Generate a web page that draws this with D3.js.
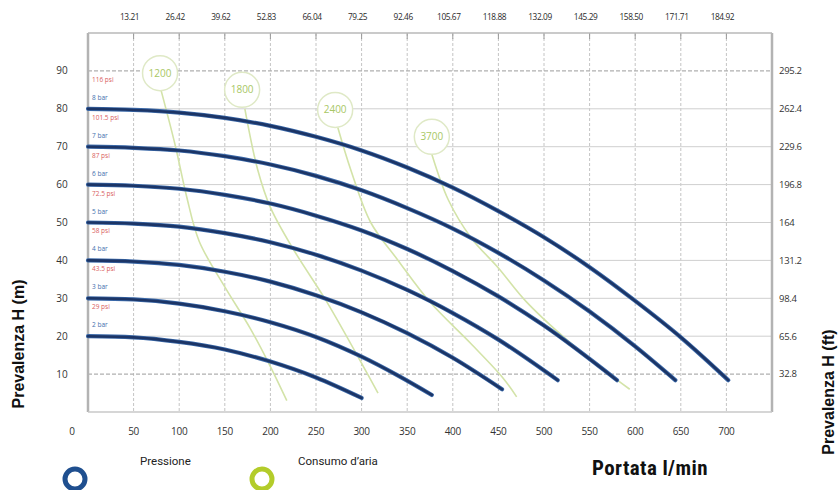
<!DOCTYPE html>
<html><head><meta charset="utf-8">
<script src="https://cdn.jsdelivr.net/npm/d3@7"></script>
<style>body{margin:0;background:#fff}svg{display:block}</style>
</head><body>
<svg id="c" width="840" height="490"></svg>
<script>
// ---- data ----
const flowTicks = [0,50,100,150,200,250,300,350,400,450,500,550,600,650,700];
const galTicks = ["13.21","26.42","39.62","52.83","66.04","79.25","92.46","105.67","118.88","132.09","145.29","158.50","171.71","184.92"];
const headTicks = [10,20,30,40,50,60,70,80,90];
const ftTicks = ["32.8","65.6","98.4","131.2","164","196.8","229.6","262.4","295.2"];
const barLabels = ["2 bar","3 bar","4 bar","5 bar","6 bar","7 bar","8 bar"];
const psiLabels = ["29 psi","43.5 psi","58 psi","72.5 psi","87 psi","101.5 psi","116 psi"];
const barHead = [20,30,40,50,60,70,80];
// pressure curves: [flow l/min, head m]
const p2 = [[0,20],[50,19.7],[100,18.5],[150,16.5],[200,13.3],[250,9.1],[300,3.7]];
const p3 = [[0,30],[50,29.7],[100,28.6],[150,26.6],[200,23.7],[250,19.8],[300,14.6],[340,9.6],[377,4.5]];
const p4 = [[0,40],[50,39.7],[100,38.8],[150,37.0],[200,34.4],[250,30.8],[300,26.3],[350,20.8],[400,14.3],[454,6]];
const p5 = [[0,50],[50,49.7],[100,48.9],[150,47.2],[200,44.8],[250,41.5],[300,37.3],[350,32.2],[400,26.1],[450,19.1],[515,8.4]];
const p6 = [[0,60],[50,59.7],[100,58.9],[150,57.3],[200,55.0],[250,51.8],[300,47.9],[350,43.0],[400,37.2],[450,30.5],[500,22.8],[580,8.4]];
const p7 = [[0,70],[50,69.7],[100,69.0],[150,67.5],[200,65.3],[250,62.3],[300,58.5],[350,53.8],[400,48.4],[450,42.0],[500,34.7],[550,26.5],[600,17.3],[644,8.4]];
const p8 = [[0,80],[50,79.7],[100,79.0],[150,77.6],[200,75.5],[250,72.6],[300,69.0],[350,64.5],[400,59.2],[450,53.0],[500,46.1],[550,38.2],[600,29.3],[650,19.7],[702,8.4]];
const pressureSeries = [p2,p3,p4,p5,p6,p7,p8];
// air consumption lines (Nl/min)
const airLabels = ["1200","1800","2400","3700"];
const airCircle = [[79,89.4],[169,85],[271,79.7],[377,72.6]];
const a1200 = [[80,85],[96,70],[108,57],[122,45],[150,33],[178,22],[200,12],[218,3]];
const a1800 = [[172,80],[186,64],[200,54],[225,43],[262,29],[302,12],[318,5]];
const a2400 = [[274,75],[288,64],[310,50],[340,40],[375,29],[420,18],[455,9],[470,4]];
const a3700 = [[377,68],[395,56],[420,46],[450,38],[481,29],[540,16],[594,6]];
const airSeries = [a1200,a1800,a2400,a3700];

// ---- chart ----
const svg = d3.select("#c");
const x = d3.scaleLinear().domain([0,750]).range([88,772]);
const y = d3.scaleLinear().domain([0,100]).range([412,33]);
const tickFont = "'Open Sans', 'DejaVu Sans', sans-serif";

// grid
const g = svg.append("g");
g.selectAll(".vg").data(flowTicks.slice(1)).join("line")
  .attr("x1",d=>x(d)).attr("x2",d=>x(d)).attr("y1",y(100)).attr("y2",y(0))
  .attr("stroke","#c4c4c4").attr("stroke-width",1).attr("stroke-dasharray","3,2");
g.selectAll(".hg").data(headTicks).join("line")
  .attr("x1",x(0)).attr("x2",x(750)).attr("y1",d=>y(d)).attr("y2",d=>y(d))
  .attr("stroke",d=>(d===10||d===90)?"#b0b0b0":"#cfcfcf")
  .attr("stroke-width",d=>(d===10||d===90)?1.4:1)
  .attr("stroke-dasharray",d=>(d===10||d===90)?"4,2":null);
// top short ticks
g.selectAll(".tt").data(flowTicks.slice(1)).join("line")
  .attr("x1",d=>x(d)).attr("x2",d=>x(d)).attr("y1",y(100)).attr("y2",y(100)+6)
  .attr("stroke","#999").attr("stroke-width",1);
// frame
svg.append("line").attr("x1",x(0)).attr("x2",x(0)).attr("y1",y(100)).attr("y2",y(0)).attr("stroke","#b3b3b3").attr("stroke-width",2.5);
svg.append("line").attr("x1",x(750)).attr("x2",x(750)).attr("y1",y(100)).attr("y2",y(0)).attr("stroke","#b3b3b3").attr("stroke-width",2.5);
svg.append("line").attr("x1",x(0)).attr("x2",x(750)).attr("y1",y(100)).attr("y2",y(100)).attr("stroke","#b8b8b8").attr("stroke-width",1.5);
svg.append("line").attr("x1",x(0)).attr("x2",x(750)).attr("y1",y(0)).attr("y2",y(0)).attr("stroke","#c8c8c8").attr("stroke-width",1.5);

// air lines
const line = d3.line().x(d=>x(d[0])).y(d=>y(d[1])).curve(d3.curveMonotoneX);
const lineC = d3.line().x(d=>x(d[0])).y(d=>y(d[1])).curve(d3.curveCatmullRom.alpha(0.5));
svg.selectAll(".air").data(airSeries).join("path")
  .attr("d",d=>lineC(d)).attr("fill","none").attr("stroke","#d3e3a8").attr("stroke-width",1.6);
const ac = svg.selectAll(".ac").data(airCircle).join("g")
  .attr("transform",d=>`translate(${x(d[0])},${y(d[1])})`);
ac.append("circle").attr("r",17.5).attr("fill","#fff").attr("stroke","#dfe9c6").attr("stroke-width",1.5);
ac.append("text").text((d,i)=>airLabels[i]).attr("text-anchor","middle").attr("dy","0.35em")
  .attr("font-family",tickFont).attr("font-size",10).attr("fill","#a8c765");

// pressure curves
svg.selectAll(".pc").data(pressureSeries).join("path")
  .attr("d",d=>line(d)).attr("fill","none").attr("stroke","#3a68a8").attr("stroke-width",4.2).attr("stroke-linecap","round");
svg.selectAll(".pc2").data(pressureSeries).join("path")
  .attr("d",d=>line(d)).attr("fill","none").attr("stroke","#1c3566").attr("stroke-width",2.6).attr("stroke-linecap","round");

// bar / psi labels
svg.selectAll(".bl").data(barHead).join("text")
  .attr("x",x(0)+4).attr("y",d=>y(d)-9).text((d,i)=>barLabels[i])
  .attr("font-family",tickFont).attr("font-size",6.5).attr("fill","#3f6fae");
svg.selectAll(".pl").data(barHead).join("text")
  .attr("x",x(0)+4).attr("y",d=>y(d)-27).text((d,i)=>psiLabels[i])
  .attr("font-family",tickFont).attr("font-size",6.5).attr("fill","#d9605e");

// left axis labels
svg.selectAll(".yl").data(headTicks).join("text")
  .attr("x",62).attr("y",d=>y(d)).attr("dy","0.35em").attr("text-anchor","middle").text(d=>d)
  .attr("font-family",tickFont).attr("font-size",10).attr("fill","#333");
// right axis labels
svg.selectAll(".yr").data(headTicks).join("text")
  .attr("x",779).attr("y",d=>y(d)).attr("dy","0.35em").text((d,i)=>ftTicks[i])
  .attr("font-family",tickFont).attr("font-size",9.5).attr("fill","#333").attr("letter-spacing","-0.3");
// bottom axis labels
svg.selectAll(".xl").data(flowTicks).join("text")
  .attr("x",d=>d===0?x(0)-16:x(d)).attr("y",431).attr("dy","0.35em").attr("text-anchor","middle").text(d=>d)
  .attr("font-family",tickFont).attr("font-size",10).attr("fill","#333").attr("letter-spacing","-0.3");
// top axis labels
svg.selectAll(".xt").data(flowTicks.slice(1)).join("text")
  .attr("x",d=>x(d)-4).attr("y",17).attr("dy","0.35em").attr("text-anchor","middle").text((d,i)=>galTicks[i])
  .attr("font-family",tickFont).attr("font-size",8.3).attr("fill","#2a2a2a").attr("letter-spacing","-0.4");

// axis titles
svg.append("text").attr("transform","translate(24,344) rotate(-90)").attr("text-anchor","middle")
  .text("Prevalenza H (m)").attr("font-family","'Liberation Sans', Arial, sans-serif").attr("font-weight","bold").attr("font-size",16).attr("fill","#111");
svg.append("text").attr("transform","translate(834,392) rotate(-90)").attr("text-anchor","middle")
  .text("Prevalenza H (ft)").attr("font-family","'Liberation Sans', Arial, sans-serif").attr("font-weight","bold").attr("font-size",16).attr("fill","#111");
svg.append("text").attr("x",592).attr("y",475).text("Portata l/min")
  .attr("font-family","'Liberation Sans Narrow', 'Roboto', sans-serif").attr("font-stretch","condensed").attr("font-weight","bold").attr("font-size",21).attr("letter-spacing","0.4").attr("fill","#111");

// legend
svg.append("circle").attr("cx",75).attr("cy",479).attr("r",10).attr("fill","none").attr("stroke","#1f4f8f").attr("stroke-width",5);
svg.append("circle").attr("cx",262).attr("cy",479).attr("r",10).attr("fill","none").attr("stroke","#b3cc2a").attr("stroke-width",5);
svg.append("text").attr("x",140).attr("y",465).text("Pressione")
  .attr("font-family","'Liberation Sans Narrow', 'Roboto', sans-serif").attr("font-size",11.5).attr("fill","#222");
svg.append("text").attr("x",298).attr("y",465).text("Consumo d\u2019aria")
  .attr("font-family","'Liberation Sans Narrow', 'Roboto', sans-serif").attr("font-size",11.5).attr("fill","#222");
</script>
</body></html>
